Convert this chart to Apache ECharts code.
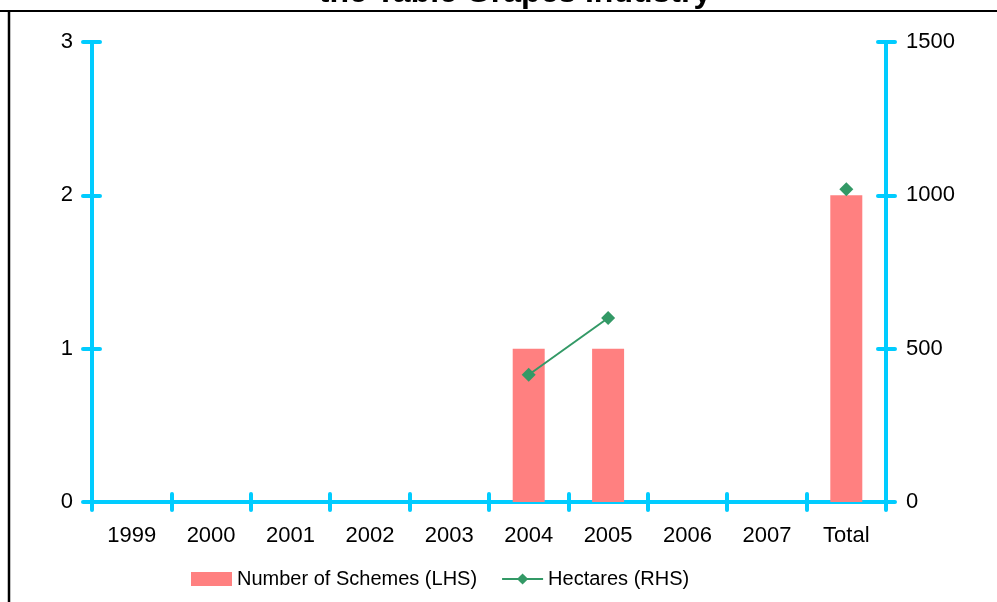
<!DOCTYPE html>
<html><head><meta charset="utf-8">
<script src="https://cdn.jsdelivr.net/npm/echarts@6/dist/echarts.min.js"></script>
<style>html,body{margin:0;padding:0;background:#fff}#c{width:997px;height:602px}</style>
</head><body><div id="c"></div>
<script>
const categories = ['1999','2000','2001','2002','2003','2004','2005','2006','2007','Total'];
const schemes = [0,0,0,0,0,1,1,0,0,2];
const hectares = [null,null,null,null,null,415,600,null,null,1020];
const titleText = 'the Table Grapes Industry';
const seriesNames = ['Number of Schemes (LHS)','Hectares (RHS)'];

const FONT = 'Liberation Sans, Arial, sans-serif';
const CYAN = '#00CCFF';
const axisLineStyle = {color: CYAN, width: 4, cap: 'round'};
const chart = echarts.init(document.getElementById('c'));
chart.setOption({
  animation: false,
  textStyle: {fontFamily: FONT},
  grid: {left: 92, right: 111, top: 42, bottom: 100},
  graphic: [
    {type: 'text', x: 0, y: -23, style: {text: titleText, font: 'bold 32px ' + FONT, fill: '#000', x: 515, textAlign: 'center'}},
    {type: 'line', shape: {x1: 0, y1: 11, x2: 997, y2: 11}, style: {stroke: '#000', lineWidth: 2}},
    {type: 'line', shape: {x1: 9, y1: 11, x2: 9, y2: 602}, style: {stroke: '#000', lineWidth: 2.5}}
  ],
  legend: {
    bottom: 8, left: 186,
    itemWidth: 41, itemHeight: 14, itemGap: 24,
    textStyle: {fontSize: 20, color: '#000', fontFamily: FONT},
    data: [
      {name: seriesNames[0], icon: 'rect'},
      {name: seriesNames[1]}
    ]
  },
  xAxis: [
    {type: 'category', data: categories, position: 'bottom',
     axisLine: {lineStyle: axisLineStyle},
     axisTick: {show: true, length: 8, lineStyle: axisLineStyle},
     axisLabel: {fontSize: 22, color: '#000', margin: 23, fontFamily: FONT},
     splitLine: {show: false}},
    {type: 'category', data: categories, position: 'bottom',
     axisLine: {show: false},
     axisTick: {show: true, inside: true, length: 8, lineStyle: axisLineStyle},
     axisLabel: {show: false}, splitLine: {show: false}}
  ],
  yAxis: [
    {type: 'value', min: 0, max: 3, interval: 1, position: 'left',
     axisLine: {show: true, lineStyle: axisLineStyle},
     axisTick: {show: true, length: 9, lineStyle: axisLineStyle},
     axisLabel: {fontSize: 22, color: '#000', margin: 19, fontFamily: FONT},
     splitLine: {show: false}},
    {type: 'value', min: 0, max: 1500, interval: 500, position: 'right',
     axisLine: {show: true, lineStyle: axisLineStyle},
     axisTick: {show: true, length: 9, lineStyle: axisLineStyle},
     axisLabel: {fontSize: 22, color: '#000', margin: 20, fontFamily: FONT, formatter: v => String(v)},
     splitLine: {show: false}},
    {type: 'value', min: 0, max: 3, interval: 1, position: 'left',
     axisLine: {show: false},
     axisTick: {show: true, inside: true, length: 8, lineStyle: axisLineStyle},
     axisLabel: {show: false}, splitLine: {show: false}},
    {type: 'value', min: 0, max: 1500, interval: 500, position: 'right',
     axisLine: {show: false},
     axisTick: {show: true, inside: true, length: 8, lineStyle: axisLineStyle},
     axisLabel: {show: false}, splitLine: {show: false}}
  ],
  series: [
    {name: seriesNames[0], type: 'bar', data: schemes, xAxisIndex: 0, yAxisIndex: 0,
     barWidth: 32, itemStyle: {color: '#FF8080'}, z: 1},
    {name: seriesNames[1], type: 'line', data: hectares, xAxisIndex: 0, yAxisIndex: 1,
     connectNulls: false, symbol: 'diamond', symbolSize: 14, showSymbol: true, showAllSymbol: true,
     lineStyle: {color: '#339966', width: 2}, itemStyle: {color: '#339966'}, z: 3}
  ]
});
</script></body></html>
